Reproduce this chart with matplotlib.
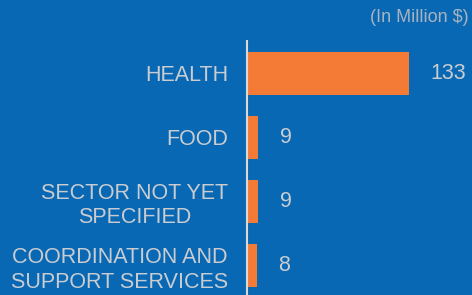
import matplotlib
matplotlib.use('Agg')
import matplotlib.pyplot as plt

plt.rcParams['font.family'] = ['Liberation Sans', 'DejaVu Sans']

categories = ["HEALTH", "FOOD", "SECTOR NOT YET\nSPECIFIED", "COORDINATION AND\nSUPPORT SERVICES"]
values = [133, 9, 9, 8]
unit_label = "(In Million $)"

bg = '#0868b4'
bar_col = '#f47b35'
txt_col = '#c9ccd0'

fig = plt.figure(figsize=(4.72, 2.95), dpi=100, facecolor=bg)
ax = fig.add_axes([247/472, -3/295, 225/472, 257/295])
ax.set_facecolor(bg)

ypos = list(range(len(categories)))
ax.barh(ypos, values, height=0.67, color=bar_col, edgecolor='none')
ax.set_ylim(len(categories) - 0.5, -0.5)
ax.set_xlim(0, 185)

for y, v in zip(ypos, values):
    ax.text(v + 18, y, f'{v}', va='center', ha='left', fontsize=15.5, color=txt_col)

ax.set_yticks(ypos)
ax.set_yticklabels(categories, fontsize=15.5, color=txt_col, multialignment='center')
ax.tick_params(axis='y', length=0, pad=13.5)
ax.set_xticks([])
for s in ['top', 'right', 'bottom']:
    ax.spines[s].set_visible(False)
ax.spines['left'].set_color('#d9d9d9')
ax.spines['left'].set_linewidth(1.5)

fig.text(469/472, 1 - 17/295, unit_label, ha='right', va='center', fontsize=13, color='#a9b3bf')

fig.savefig('out.png', dpi=100, facecolor=bg)
